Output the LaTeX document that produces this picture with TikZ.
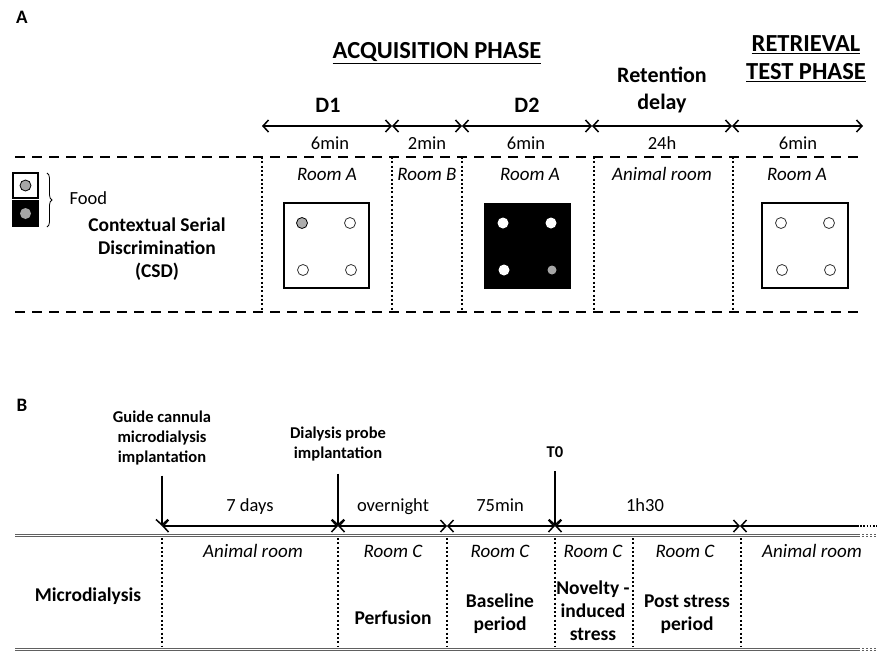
\documentclass[tikz,border=0pt]{standalone}
\usepackage{fontspec}
\setmainfont{Carlito}
\usetikzlibrary{arrows.meta, decorations.pathreplacing, calc}
\tikzset{
  barb/.tip={Straight Barb[length=5.5pt,width=12pt,line width=1.5pt]},
  timearrow/.style={barb-barb, line width=1.7pt},
  leftarrow/.style={barb-, line width=1.7pt},
  downarrow/.style={-barb, line width=1.7pt},
  phaseline/.style={line width=2.5pt, dash pattern=on 10pt off 7pt},
  roomline/.style={line width=2pt, dash pattern=on 2pt off 2.3pt},
  trackline/.style={draw=gray!75!black, double=white, double distance=1.2pt, line width=1.3pt},
  panel/.style={font=\bfseries\fontsize{19}{21}\selectfont},
  phase/.style={font=\bfseries\fontsize{24.5}{28}\selectfont, align=center},
  head/.style={font=\bfseries\fontsize{22}{27}\selectfont, align=center},
  dur/.style={font=\fontsize{18.5}{20}\selectfont, anchor=base},
  room/.style={font=\itshape\fontsize{19}{20}\selectfont, anchor=base},
  lab/.style={font=\bfseries\fontsize{19.5}{23}\selectfont, align=center},
  evt/.style={font=\bfseries\fontsize{16.5}{20}\selectfont, align=center},
  hole/.style={draw=black!80, line width=0.8pt, fill=white}
}
\begin{document}
\begin{tikzpicture}[x=1pt, y=-1pt]
  \useasboundingbox (0,0) rectangle (892,667);
  % panel A
  \node[panel] (lblA) at (22,17) {A};
  \node[phase] (acq) at (437,53) {\underline{ACQUISITION PHASE}};
  \node[phase] (retr) at (806,59) {\underline{RETRIEVAL}\\\underline{TEST PHASE}};
  \node[head] (d1) at (328,105) {D1};
  \node[head] (d2) at (527,105) {D2};
  \node[head] (delay) at (662,90) {Retention\\delay};
  % time arrows
  \foreach \n/\x in {a0/262, a1/392, a2/462, a3/592, a4/732, a5/863}
    \coordinate (\n) at (\x,126);
  \draw[timearrow] (a0) -- (a1);
  \draw[timearrow] (a1) -- (a2);
  \draw[timearrow] (a2) -- (a3);
  \draw[timearrow] (a3) -- (a4);
  \draw[timearrow] (a4) -- (a5);
  \node[dur] (t1) at (330,149) {6min};
  \node[dur] (t2) at (427,149) {2min};
  \node[dur] (t3) at (526,149) {6min};
  \node[dur] (t4) at (662,149) {24h};
  \node[dur] (t5) at (798,149) {6min};
  % frame
  \draw[phaseline] (15,157) -- (865,157);
  \draw[phaseline] (15,312) -- (865,312);
  \foreach \x in {262, 392, 462, 594, 733}
    \draw[roomline] (\x,157) -- (\x,312);
  \node[room] (r1) at (327,180) {Room A};
  \node[room] (r2) at (427,180) {Room B};
  \node[room] (r3) at (530,180) {Room A};
  \node[room] (r4) at (662,180) {Animal room};
  \node[room] (r5) at (797,180) {Room A};
  % legend
  \draw[line width=1.8pt, fill=white] (13,173) rectangle (38,198);
  \draw[line width=0.8pt, fill=gray!70] (25.5,185.5) circle (5.5);
  \fill (12,200) rectangle (39,227);
  \fill[gray!70] (25.5,213.5) circle (5.5);
  \draw[line width=0.8pt, decorate, decoration={brace, amplitude=5pt}] (47,173) -- (47,227);
  \node[dur, anchor=west] (food) at (66,198) {Food};
  \node[lab] (csd) at (157,249) {Contextual Serial\\Discrimination\\(CSD)};
  % boxes
  \draw[line width=1.5pt] (284,203) rectangle (369,288);
  \draw[line width=0.8pt, fill=gray!65] (302,223) circle (5.5);
  \foreach \p in {(350,223), (303,270), (351,270)}
    \draw[hole] \p circle (5.5);
  \fill (484,203) rectangle (571,289);
  \foreach \p in {(503,223), (551,223), (504,270)}
    \fill[white] \p circle (5.5);
  \fill[gray!70] (552,270) circle (4.5);
  \draw[line width=1.5pt] (762,203) rectangle (848,288);
  \foreach \p in {(781,223), (829,223), (782,270), (830,270)}
    \draw[hole] \p circle (5.5);
  % panel B
  \node[panel] (lblB) at (22,405) {B};
  \node[evt] (guide) at (162,438) {Guide cannula\\microdialysis\\implantation};
  \node[evt] (probe) at (338,444) {Dialysis probe\\implantation};
  \node[evt] (tzero) at (555,452) {T0};
  \foreach \n/\x in {b0/162, b1/338, b2/447, b3/555, b4/740, b5/857, b6/877}
    \coordinate (\n) at (\x,526);
  \draw[downarrow, shorten <=7pt] (guide.south) -- (b0);
  \draw[downarrow, shorten <=9pt] (probe.south) -- (b1);
  \draw[downarrow, shorten <=10pt] (tzero.south) -- (b3);
  \draw[timearrow] (b0) -- (b1);
  \draw[timearrow] (b1) -- (b2);
  \draw[timearrow] (b2) -- (b3);
  \draw[timearrow] (b3) -- (b4);
  \draw[leftarrow] (b4) -- (b5);
  \draw[line width=1.6pt, dash pattern=on 1.6pt off 1.6pt] (b5) -- (b6);
  \node[dur] (s1) at (250,511) {7 days};
  \node[dur] (s2) at (393,511) {overnight};
  \node[dur] (s3) at (500,511) {75min};
  \node[dur] (s4) at (645,511) {1h30};
  \draw[trackline] (15,535.5) -- (858,535.5);
  \draw[trackline, dash pattern=on 2pt off 2pt] (858,535.5) -- (877,535.5);
  \draw[trackline] (15,649.5) -- (858,649.5);
  \draw[trackline, dash pattern=on 2pt off 2pt] (858,649.5) -- (877,649.5);
  \foreach \x in {162, 338, 447, 555, 633, 741}
    \draw[roomline] (\x,538) -- (\x,647);
  \node[room] (c1) at (253,557) {Animal room};
  \node[room] (c2) at (393,557) {Room C};
  \node[room] (c3) at (500,557) {Room C};
  \node[room] (c4) at (593,557) {Room C};
  \node[room] (c5) at (685,557) {Room C};
  \node[room] (c6) at (812,557) {Animal room};
  \node[lab] (micro) at (88,596) {Microdialysis};
  \node[lab] (perf) at (393,618) {Perfusion};
  \node[lab] (base) at (500,614) {Baseline\\period};
  \node[lab] (nov) at (593,611) {Novelty -\\induced\\stress};
  \node[lab] (post) at (687,614) {Post stress\\period};
\end{tikzpicture}
\end{document}
